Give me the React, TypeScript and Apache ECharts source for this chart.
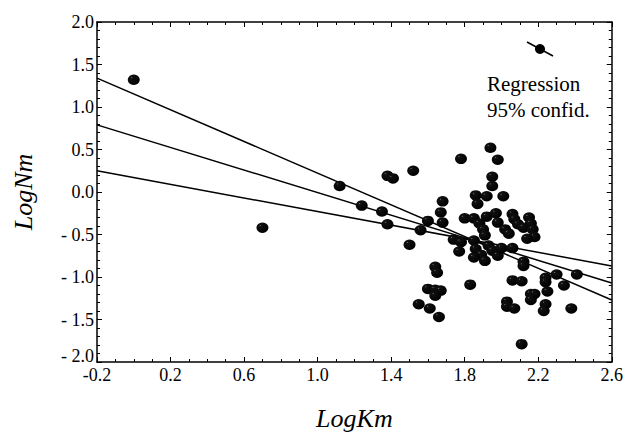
import React, { useEffect, useRef } from "react";
import * as echarts from "echarts";

// Scatter data (LogKm, LogNm)
const logKm = [
  0.0, 0.7, 1.12, 1.24, 1.35, 1.38, 1.38, 1.41, 1.52, 1.5,
  1.56, 1.6, 1.68, 1.67, 1.68, 1.78, 1.94, 1.98, 1.95, 1.95,
  1.86, 1.92, 2.01, 1.87, 1.8, 1.85, 1.92, 1.97, 1.98, 1.88,
  1.9, 1.91, 2.02, 2.04, 2.06, 2.07, 2.09, 2.12, 2.15, 2.16,
  2.17, 2.18, 2.14, 1.74, 1.78, 1.77, 1.85, 1.86, 1.89, 1.85,
  1.91, 1.93, 1.95, 1.98, 2.0, 2.06, 2.12, 2.12, 1.64, 1.65,
  1.83, 1.6, 1.64, 1.67, 1.64, 1.55, 1.61, 1.66, 2.06, 2.11,
  2.24, 2.24, 2.3, 2.41, 2.34, 2.25, 2.16, 2.18, 2.16, 2.03,
  2.03, 2.07, 2.24, 2.23, 2.38, 2.11,
];
const logNm = [
  1.32, -0.42, 0.07, -0.16, -0.23, -0.38, 0.19, 0.16, 0.25, -0.62,
  -0.45, -0.34, -0.11, -0.24, -0.36, 0.39, 0.52, 0.38, 0.18, 0.07,
  -0.04, -0.05, -0.05, -0.14, -0.31, -0.31, -0.29, -0.25, -0.36, -0.37,
  -0.44, -0.51, -0.44, -0.49, -0.26, -0.32, -0.38, -0.42, -0.3, -0.37,
  -0.44, -0.53, -0.55, -0.56, -0.59, -0.7, -0.57, -0.67, -0.74, -0.77,
  -0.81, -0.63, -0.69, -0.75, -0.66, -0.66, -0.82, -0.87, -0.88, -0.95,
  -1.09, -1.14, -1.15, -1.16, -1.22, -1.32, -1.37, -1.47, -1.04, -1.05,
  -1.01, -1.06, -0.97, -0.97, -1.1, -1.17, -1.2, -1.2, -1.27, -1.29,
  -1.35, -1.37, -1.32, -1.4, -1.37, -1.79,
];

// Regression line and 95% confidence lines (end points)
const lineKm = [-0.2, 2.6];
const upperBand = [1.34, -1.27];
const regression = [0.79, -1.07];
const lowerBand = [0.25, -0.87];

const legendTexts = ["Regression", "95% confid."];
const xName = "LogKm";
const yName = "LogNm";

const FONT = "'Liberation Serif', 'Times New Roman', serif";

export default function App() {
  const ref = useRef<HTMLDivElement>(null);

  useEffect(() => {
    if (!ref.current) return;
    const chart = echarts.init(ref.current, null, { renderer: "svg" });

    const axisLine = { show: true, onZero: false, lineStyle: { color: "#000", width: 1.5 } };
    const axisTick = { show: true, inside: true, length: 5, lineStyle: { color: "#000", width: 1 } };
    const labelStyle = { fontFamily: FONT, fontSize: 18, lineHeight: 14, color: "#000" };
    const nameStyle = { fontFamily: FONT, fontSize: 26, fontStyle: "italic", color: "#000" };

    const xBase = { type: "value", min: -0.2, max: 2.6, interval: 0.4, splitLine: { show: false } };
    const yBase = { type: "value", min: -2, max: 2, interval: 0.5, splitLine: { show: false } };

    const pair = (ys: number[]) => lineKm.map((x, i) => [x, ys[i]]);
    const lineSeries = (name: string, ys: number[]) => ({
      name,
      type: "line",
      data: pair(ys),
      showSymbol: false,
      silent: true,
      lineStyle: { color: "#000", width: 1.5 },
      z: 2,
    });

    const yFmt = (v: number) => {
      const s = v < 0 ? "- " + Math.abs(v).toFixed(1) : v.toFixed(1);
      return v <= -2 ? "{lo|" + s + "}" : s;
    };

    chart.setOption({
      animation: false,
      backgroundColor: "#fff",
      grid: { left: 97, top: 22, right: 12, bottom: 67 },
      xAxis: [
        {
          ...xBase,
          position: "bottom",
          name: xName,
          nameLocation: "middle",
          nameGap: 43,
          nameTextStyle: nameStyle,
          axisLine,
          axisTick,
          minorTick: { show: true, splitNumber: 4, length: 3, lineStyle: { color: "#000" } },
          axisLabel: { ...labelStyle, margin: 6, formatter: (v: number) => v.toFixed(1) },
        },
        {
          ...xBase,
          position: "top",
          axisLine,
          axisTick,
          minorTick: { show: true, splitNumber: 4, length: 3, lineStyle: { color: "#000" } },
          axisLabel: { show: false },
        },
      ],
      yAxis: [
        {
          ...yBase,
          position: "left",
          name: yName,
          nameLocation: "middle",
          nameGap: 61,
          nameTextStyle: nameStyle,
          axisLine,
          axisTick,
          minorTick: { show: true, splitNumber: 5, length: 3, lineStyle: { color: "#000" } },
          axisLabel: {
            ...labelStyle,
            margin: 3,
            formatter: yFmt,
            rich: {
              lo: { fontFamily: FONT, fontSize: 18, lineHeight: 14, color: "#000", padding: [0, 0, 12, 0] },
            },
          },
        },
        {
          ...yBase,
          position: "right",
          axisLine,
          axisTick,
          minorTick: { show: true, splitNumber: 5, length: 3, lineStyle: { color: "#000" } },
          axisLabel: { show: false },
        },
      ],
      series: [
        lineSeries("Upper 95%", upperBand),
        lineSeries("Regression", regression),
        lineSeries("Lower 95%", lowerBand),
        {
          name: "Data",
          type: "scatter",
          data: logKm.map((x, i) => [x, logNm[i]]),
          symbol: "circle",
          symbolSize: [12, 10.5],
          z: 3,
          itemStyle: {
            opacity: 1,
            color: {
              type: "radial",
              x: 0.32,
              y: 0.3,
              r: 0.7,
              colorStops: [
                { offset: 0, color: "#777" },
                { offset: 0.12, color: "#111" },
                { offset: 1, color: "#000" },
              ],
            },
          },
        },
      ],
      graphic: [
        {
          type: "line",
          shape: { x1: 527, y1: 42, x2: 553, y2: 56 },
          style: { stroke: "#000", lineWidth: 1.5 },
        },
        {
          type: "circle",
          shape: { cx: 540, cy: 49, r: 5 },
          style: { fill: "#000" },
        },
        {
          type: "text",
          x: 487,
          y: 84,
          style: { text: legendTexts[0], fontFamily: FONT, fontSize: 21, fill: "#000", verticalAlign: "middle" },
        },
        {
          type: "text",
          x: 487,
          y: 110,
          style: { text: legendTexts[1], fontFamily: FONT, fontSize: 21, fill: "#000", verticalAlign: "middle" },
        },
      ],
    });

    return () => chart.dispose();
  }, []);

  return (
    <div
      ref={ref}
      style={{ position: "fixed", left: 0, top: 0, width: 626, height: 436, background: "#fff" }}
    />
  );
}
